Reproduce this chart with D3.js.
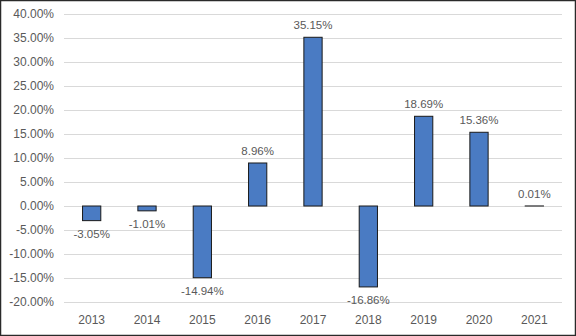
<!DOCTYPE html>
<html><head><meta charset="utf-8">
<script src="https://cdn.jsdelivr.net/npm/d3@7"></script>
<style>body{margin:0;background:#fff}svg{display:block}</style>
</head><body>
<script>
const years = ["2013","2014","2015","2016","2017","2018","2019","2020","2021"];
const returns = [-3.05,-1.01,-14.94,8.96,35.15,-16.86,18.69,15.36,0.01];
const yTicks = [-20,-15,-10,-5,0,5,10,15,20,25,30,35,40];

const W=576,H=336;
const svg=d3.select("body").append("svg").attr("width",W).attr("height",H);
svg.append("rect").attr("x",0.5).attr("y",0.5).attr("width",W-1).attr("height",H-1)
  .attr("fill","#fff").attr("stroke","#2a2a2a").attr("stroke-width",1.5);

const x=d3.scaleBand().domain(years).range([64,562]).paddingInner(0.67).paddingOuter(0.335);
const y=d3.scaleLinear().domain([-20,40]).range([302,14]);
const font="'Liberation Sans', Arial, sans-serif";

const yAxis=svg.append("g").attr("transform","translate(64,0)")
  .call(d3.axisLeft(y).tickValues(yTicks).tickSize(-498).tickPadding(10).tickFormat(d=>d.toFixed(2)+"%"));
yAxis.select(".domain").remove();
yAxis.selectAll(".tick line").attr("stroke","#d9d9d9").attr("stroke-width",1);
yAxis.selectAll(".tick text").attr("fill","#595959").attr("font-size","12px").attr("font-family",font);

const xAxis=svg.append("g").attr("transform","translate(0,302)")
  .call(d3.axisBottom(x).tickSize(0).tickPadding(13));
xAxis.select(".domain").remove();
xAxis.selectAll(".tick text").attr("fill","#595959").attr("font-size","12px").attr("font-family",font);

svg.append("g").selectAll("rect").data(years).join("rect")
  .attr("x",d=>x(d)).attr("width",x.bandwidth())
  .attr("y",(d,i)=>y(Math.max(0,returns[i])))
  .attr("height",(d,i)=>Math.abs(y(returns[i])-y(0)))
  .attr("fill","#4a7bc3").attr("stroke","#1a1a1a").attr("stroke-width",1);

svg.append("g").selectAll("text").data(years).join("text")
  .attr("x",d=>x(d)+x.bandwidth()/2)
  .attr("y",(d,i)=>returns[i]>=0? y(returns[i])-8 : y(returns[i])+17)
  .attr("text-anchor","middle").attr("fill","#595959").attr("font-size","11.5px").attr("font-family",font)
  .text((d,i)=>returns[i].toFixed(2)+"%");
</script>
</body></html>
